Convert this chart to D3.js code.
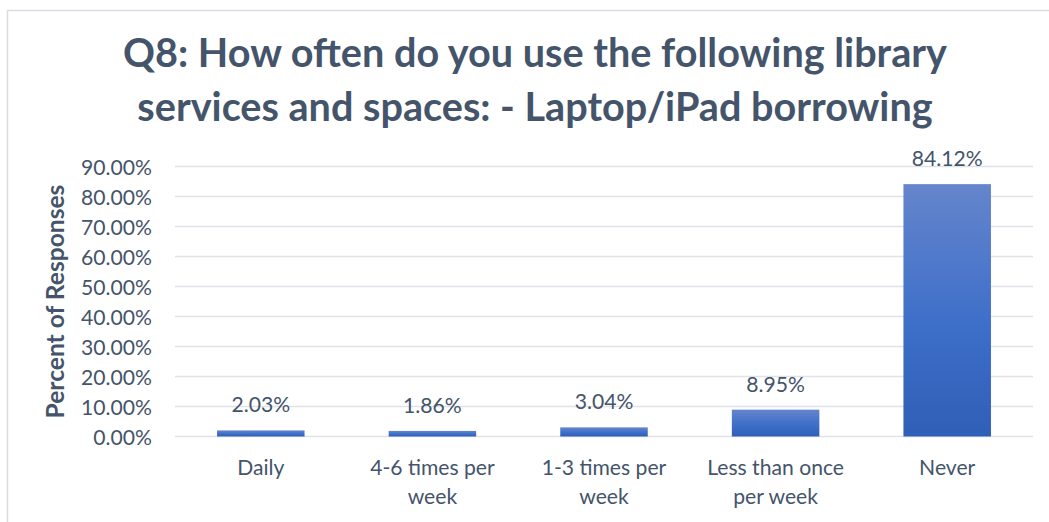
<!DOCTYPE html>
<html>
<head>
<meta charset="utf-8">
<script src="https://cdn.jsdelivr.net/npm/d3@7"></script>
<style>
  html, body { margin: 0; padding: 0; background: #fff; }
  svg { display: block; font-family: Lato, "Open Sans", sans-serif; }
</style>
</head>
<body>
<svg id="chart" width="1049" height="522"></svg>
<script>
// Survey answers for Q8 (Laptop/iPad borrowing)
const categories = ["Daily", "4-6 times per week", "1-3 times per week", "Less than once per week", "Never"];
const categoryLines = [["Daily"], ["4-6 times per", "week"], ["1-3 times per", "week"], ["Less than once", "per week"], ["Never"]];
const percentValues = [2.03, 1.86, 3.04, 8.95, 84.12];
const yTicks = [0, 10, 20, 30, 40, 50, 60, 70, 80, 90];
const titleLines = ["Q8: How often do you use the following library", "services and spaces: - Laptop/iPad borrowing"];
const yAxisTitle = "Percent of Responses";

const textColor = "#44546A";
const svg = d3.select("#chart");

// scale a text's font size so that its rendered width equals `width`
function fitWidth(sel, width) {
  const node = sel.node();
  const size = parseFloat(sel.style("font-size"));
  const w = node.getComputedTextLength();
  const s = size * width / w;
  sel.style("font-size", s + "px");
  return s;
}

// outer chart frame
svg.append("rect")
  .attr("x", 7.5).attr("y", 10.5)
  .attr("width", 1100).attr("height", 600)
  .attr("fill", "none").attr("stroke", "#D9DDE3").attr("stroke-width", 1.5);

const plot = { left: 175, right: 1033, top: 166.5, bottom: 436.5 };

const x = d3.scaleBand()
  .domain(categories)
  .range([plot.left, plot.right])
  .paddingInner(0.49).paddingOuter(0.245);

const y = d3.scaleLinear()
  .domain([0, 90])
  .range([plot.bottom, plot.top]);

// gradient fill for the bars
const defs = svg.append("defs");
const grad = defs.append("linearGradient")
  .attr("id", "barGrad").attr("x1", 0).attr("y1", 0).attr("x2", 0).attr("y2", 1);
grad.append("stop").attr("offset", "0%").attr("stop-color", "#6585CC");
grad.append("stop").attr("offset", "55%").attr("stop-color", "#3E6FC9");
grad.append("stop").attr("offset", "100%").attr("stop-color", "#2F5FB6");

// gridlines
svg.append("g")
  .selectAll("line")
  .data(yTicks)
  .join("line")
  .attr("x1", plot.left).attr("x2", plot.right)
  .attr("y1", d => y(d)).attr("y2", d => y(d))
  .attr("stroke", "#DFE2E7").attr("stroke-width", 1.5);

// common label size, derived from the width of the tick text
const probe = svg.append("text").style("font-size", "20px").text("90.00%");
const labelSize = fitWidth(probe, 71);
probe.remove();

// y axis labels
const yAxis = d3.axisLeft(y)
  .tickValues(yTicks)
  .tickFormat(d => d.toFixed(2) + "%")
  .tickSize(0).tickPadding(0);
const yg = svg.append("g")
  .attr("transform", `translate(${plot.left - 23},0)`)
  .call(yAxis);
yg.select(".domain").remove();
yg.selectAll("text")
  .attr("fill", textColor)
  .attr("font-family", null)
  .attr("font-size", null)
  .style("font-size", labelSize + "px")
  .attr("dy", "0.36em");
yg.attr("font-family", null).attr("font-size", null);

// y axis title
const yt = svg.append("text")
  .attr("transform", `translate(64,${(plot.top + plot.bottom) / 2}) rotate(-90)`)
  .attr("text-anchor", "middle")
  .attr("fill", textColor)
  .style("font-size", "20px")
  .style("font-weight", "bold")
  .text(yAxisTitle);
fitWidth(yt, 234);

// bars
svg.append("g")
  .selectAll("rect")
  .data(percentValues)
  .join("rect")
  .attr("x", (d, i) => x(categories[i]))
  .attr("width", x.bandwidth())
  .attr("y", d => y(d))
  .attr("height", d => y(0) - y(d))
  .attr("fill", "url(#barGrad)");

// value labels
svg.append("g")
  .selectAll("text")
  .data(percentValues)
  .join("text")
  .attr("x", (d, i) => x(categories[i]) + x.bandwidth() / 2)
  .attr("y", d => y(d) - 18)
  .attr("text-anchor", "middle")
  .attr("fill", textColor)
  .style("font-size", labelSize + "px")
  .text(d => d.toFixed(2) + "%");

// category labels
const catG = svg.append("g");
categoryLines.forEach((lines, i) => {
  const cx = x(categories[i]) + x.bandwidth() / 2;
  const t = catG.append("text")
    .attr("text-anchor", "middle")
    .attr("fill", textColor)
    .style("font-size", labelSize + "px");
  lines.forEach((ln, j) => {
    t.append("tspan")
      .attr("x", cx)
      .attr("y", 475 + j * 28.5)
      .text(ln);
  });
});

// title
const titleG = svg.append("g");
const t1 = titleG.append("text")
  .attr("x", 535).attr("y", 67)
  .attr("text-anchor", "middle")
  .attr("fill", textColor)
  .style("font-size", "34px")
  .style("font-weight", "bold")
  .text(titleLines[0]);
const titleSize = fitWidth(t1, 824);
titleG.append("text")
  .attr("x", 535).attr("y", 121)
  .attr("text-anchor", "middle")
  .attr("fill", textColor)
  .style("font-size", titleSize + "px")
  .style("font-weight", "bold")
  .text(titleLines[1]);
</script>
</body>
</html>
